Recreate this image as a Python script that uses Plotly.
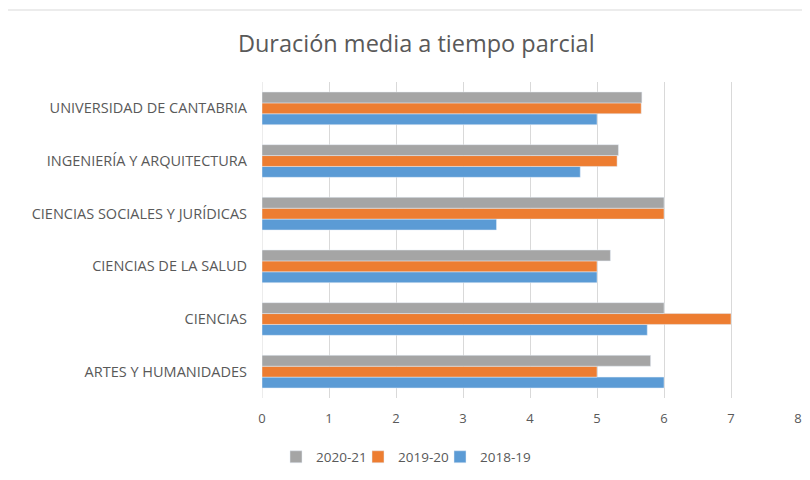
import plotly.graph_objects as go

categories = ["ARTES Y HUMANIDADES", "CIENCIAS", "CIENCIAS DE LA SALUD",
              "CIENCIAS SOCIALES Y JURÍDICAS", "INGENIERÍA Y ARQUITECTURA",
              "UNIVERSIDAD DE CANTABRIA"]
v_2018_19 = [6.0, 5.75, 5.0, 3.5, 4.75, 5.0]
v_2019_20 = [5.0, 7.0, 5.0, 6.0, 5.3, 5.66]
v_2020_21 = [5.8, 6.0, 5.2, 6.0, 5.32, 5.67]
x_ticks = [0, 1, 2, 3, 4, 5, 6, 7, 8]

fig = go.Figure()
fig.add_trace(go.Bar(y=categories, x=v_2018_19, name="2018-19", orientation="h",
                     marker=dict(color="#5b9bd5"), legend="legend3"))
fig.add_trace(go.Bar(y=categories, x=v_2019_20, name="2019-20", orientation="h",
                     marker=dict(color="#ed7d31"), legend="legend2"))
fig.add_trace(go.Bar(y=categories, x=v_2020_21, name="2020-21", orientation="h",
                     marker=dict(color="#a5a5a5"), legend="legend"))

font_fam = "Open Sans, Liberation Sans, sans-serif"
leg_font = dict(family=font_fam, size=13.5, color="#595959")

PLOT_TOP, PLOT_BOT = 82, 398
PLOT_H = PLOT_BOT - PLOT_TOP


def leg(px):
    return dict(orientation="h", x=(px - 262) / 536, xanchor="left",
                y=(PLOT_BOT - 457) / PLOT_H,
                yanchor="middle", itemwidth=30, font=leg_font,
                bgcolor="rgba(0,0,0,0)")


fig.update_layout(
    width=810, height=480,
    paper_bgcolor="white", plot_bgcolor="white",
    barmode="group", bargap=0.38, bargroupgap=0,
    margin=dict(l=254, r=20, t=PLOT_TOP - 8, b=480 + 8 - PLOT_BOT, autoexpand=False),
    title=dict(text="Duración media a tiempo parcial", x=0.504, xanchor="center",
               xref="container", y=1 - 36 / 480, yanchor="middle",
               font=dict(family=font_fam, size=23.5, color="#595959")),
    xaxis=dict(range=[0, 8], tickvals=x_ticks, showgrid=True, gridcolor="#d9d9d9",
               gridwidth=1, zeroline=False, showline=False,
               tickfont=dict(family=font_fam, size=13, color="#595959"),
               ticks="", ticklabelstandoff=11),
    yaxis=dict(showgrid=False, zeroline=False, showline=False, ticks="",
               ticklabelstandoff=14,
               tickfont=dict(family=font_fam, size=14.5, color="#595959")),
    legend=leg(276),
    legend2=leg(358),
    legend3=leg(440),
    showlegend=True,
    shapes=[dict(type="rect", xref="paper", yref="paper", x0=-0.4757, x1=1.05,
                 y0=-0.35, y1=(PLOT_BOT - 10) / PLOT_H,
                 line=dict(color="#d9d9d9", width=1), layer="below"),
            dict(type="line", xref="x", yref="paper", x0=0, x1=0, y0=0, y1=1,
                 line=dict(color="#d9d9d9", width=1), layer="below")],
)

fig.write_html("out.html")
